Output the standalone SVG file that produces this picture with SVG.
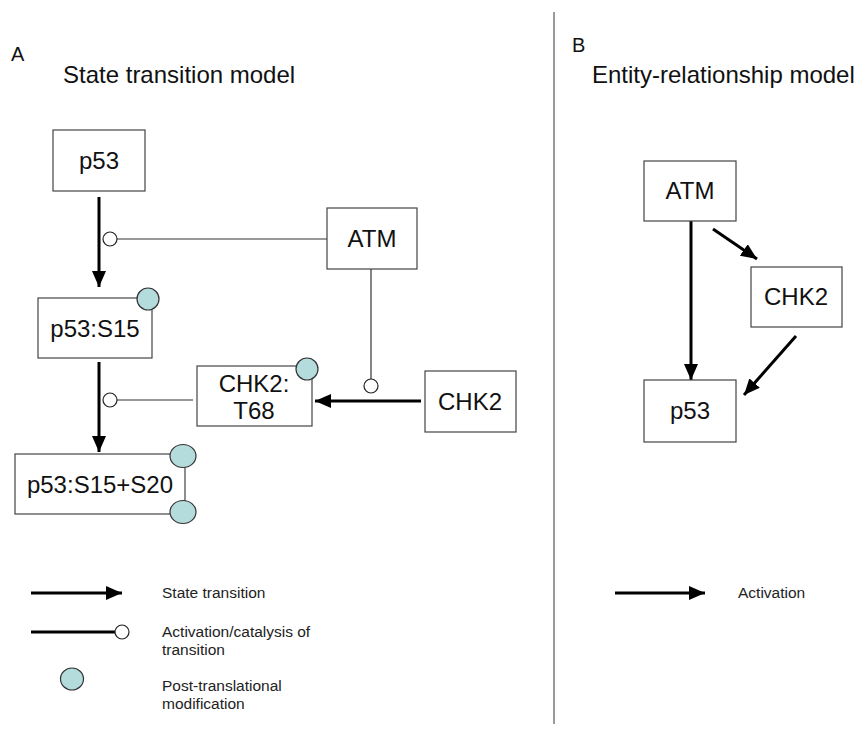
<svg xmlns="http://www.w3.org/2000/svg" width="857" height="730" viewBox="0 0 857 730">
<style>
.box{fill:#fff;stroke:#444;stroke-width:1.2}
.lbl{font-family:"Liberation Sans",Arial,sans-serif;font-size:24px;fill:#111;text-anchor:middle}
.ttl{font-family:"Liberation Sans",Arial,sans-serif;font-size:24px;fill:#111}
.pn{font-family:"Liberation Sans",Arial,sans-serif;font-size:20px;fill:#111}
.leg{font-family:"Liberation Sans",Arial,sans-serif;font-size:15.5px;fill:#222}
.thick{stroke:#000;stroke-width:3;fill:none}
.thin{stroke:#333;stroke-width:1.2;fill:none}
.cat{fill:#fff;stroke:#222;stroke-width:1.2}
.ptm{fill:#b5dcdc;stroke:#333;stroke-width:1.2}
</style>
<defs>
<marker id="ah" markerUnits="userSpaceOnUse" markerWidth="16" markerHeight="14" refX="16" refY="7" orient="auto">
<path d="M0,0 L16,7 L0,14 z" fill="#000"/>
</marker>
</defs>
<rect width="857" height="730" fill="#fff"/>
<line x1="554" y1="12" x2="554" y2="724" stroke="#555" stroke-width="1.2"/>
<text class="pn" x="11" y="61">A</text>
<text class="ttl" x="63" y="83">State transition model</text>
<text class="pn" x="572" y="52">B</text>
<text class="ttl" x="592" y="83">Entity-relationship model</text>

<g id="connectors">
<line class="thick" x1="99" y1="197" x2="99" y2="287" marker-end="url(#ah)"/>
<line class="thick" x1="99" y1="362" x2="99" y2="452" marker-end="url(#ah)"/>
<line class="thick" x1="421" y1="401" x2="315" y2="401" marker-end="url(#ah)"/>
<line class="thin" x1="327" y1="239" x2="117" y2="239"/>
<circle class="cat" cx="110" cy="239" r="7"/>
<line class="thin" x1="193" y1="400" x2="117" y2="400"/>
<circle class="cat" cx="110" cy="400" r="7"/>
<line class="thin" x1="371" y1="269" x2="371" y2="379"/>
<circle class="cat" cx="371" cy="386" r="7"/>
<line class="thick" x1="691" y1="221" x2="691" y2="380" marker-end="url(#ah)"/>
<line class="thick" x1="713" y1="229" x2="757" y2="259" marker-end="url(#ah)"/>
<line class="thick" x1="796" y1="336" x2="744" y2="395" marker-end="url(#ah)"/>
</g>

<g id="p53">
<rect class="box" x="53" y="130" width="92" height="61"/>
<text class="lbl" x="99" y="169">p53</text>
</g>
<g id="atm">
<rect class="box" x="327" y="208" width="90" height="61"/>
<text class="lbl" x="372" y="247">ATM</text>
</g>
<g id="p53_s15">
<rect class="box" x="38" y="298" width="114" height="60"/>
<text class="lbl" x="95" y="337">p53:S15</text>
<circle class="ptm" cx="148" cy="299" r="11"/>
</g>
<g id="chk2_t68">
<rect class="box" x="197" y="366" width="115" height="60"/>
<text class="lbl" x="254" y="392">CHK2:</text>
<text class="lbl" x="254" y="419">T68</text>
<circle class="ptm" cx="307" cy="369" r="11"/>
</g>
<g id="chk2">
<rect class="box" x="425" y="371" width="91" height="61"/>
<text class="lbl" x="470" y="410">CHK2</text>
</g>
<g id="p53_s15_s20">
<rect class="box" x="15" y="454" width="170" height="60"/>
<text class="lbl" x="100" y="493">p53:S15+S20</text>
<ellipse class="ptm" cx="183" cy="456" rx="13" ry="11.5"/>
<ellipse class="ptm" cx="183" cy="512" rx="13" ry="11.5"/>
</g>

<g id="b_atm">
<rect class="box" x="644" y="161" width="92" height="60"/>
<text class="lbl" x="690" y="199">ATM</text>
</g>
<g id="b_chk2">
<rect class="box" x="751" y="267" width="91" height="60"/>
<text class="lbl" x="796" y="305">CHK2</text>
</g>
<g id="b_p53">
<rect class="box" x="644" y="380" width="92" height="62"/>
<text class="lbl" x="690" y="419">p53</text>
</g>

<g id="legend">
<line class="thick" x1="31" y1="593" x2="122" y2="593" marker-end="url(#ah)"/>
<text class="leg" x="162" y="598">State transition</text>
<line class="thick" x1="31" y1="632" x2="115" y2="632"/>
<circle class="cat" cx="122" cy="632" r="7"/>
<text class="leg" x="162" y="637">Activation/catalysis of</text>
<text class="leg" x="162" y="655">transition</text>
<ellipse class="ptm" cx="72" cy="679" rx="11.5" ry="11"/>
<text class="leg" x="162" y="691">Post-translational</text>
<text class="leg" x="162" y="709">modification</text>
<line class="thick" x1="615" y1="593" x2="705" y2="593" marker-end="url(#ah)"/>
<text class="leg" x="738" y="598">Activation</text>
</g>
</svg>
